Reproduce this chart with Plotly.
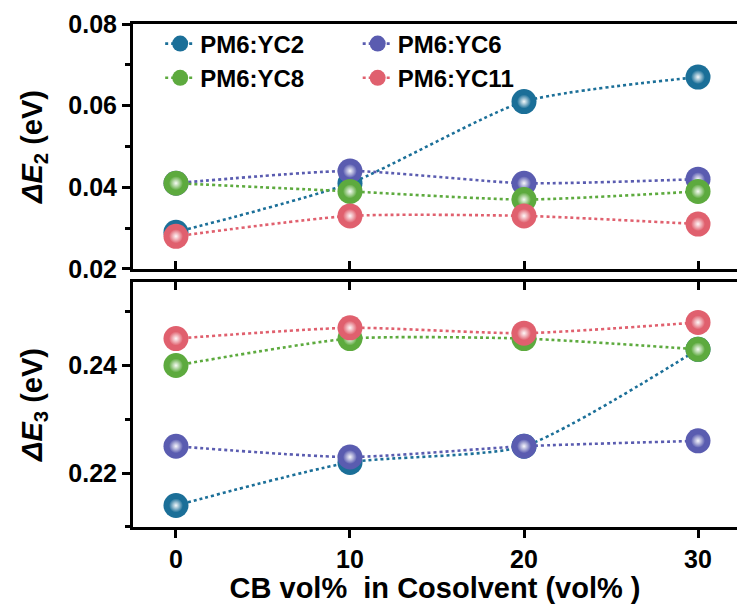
import plotly.graph_objects as go

# CB content in the cosolvent (vol%)
cb_vol = [0, 10, 20, 30]

# Energy losses ΔE2 (eV)
de2_yc2 = [0.029, 0.041, 0.061, 0.067]
de2_yc6 = [0.041, 0.044, 0.041, 0.042]
de2_yc8 = [0.041, 0.039, 0.037, 0.039]
de2_yc11 = [0.028, 0.033, 0.033, 0.031]

# Energy losses ΔE3 (eV)
de3_yc2 = [0.214, 0.222, 0.225, 0.243]
de3_yc6 = [0.225, 0.223, 0.225, 0.226]
de3_yc8 = [0.240, 0.245, 0.245, 0.243]
de3_yc11 = [0.245, 0.247, 0.246, 0.248]

names = ["PM6:YC2", "PM6:YC6", "PM6:YC8", "PM6:YC11"]
colors = ["#1b6f98", "#5a5cb0", "#5daa3e", "#e0606e"]
legends = ["legend", "legend2", "legend", "legend2"]
top_series = [de2_yc2, de2_yc6, de2_yc8, de2_yc11]
bottom_series = [de3_yc2, de3_yc6, de3_yc8, de3_yc11]

FONT = "Arial, Liberation Sans, sans-serif"
fig = go.Figure()


def add_series(y, xa, ya, name, color, leg, show):
    fig.add_trace(go.Scatter(
        x=cb_vol, y=y, xaxis=xa, yaxis=ya, name=name, legend=leg,
        mode="lines+markers", showlegend=show,
        line=dict(color=color, width=2.6, dash="dot", shape="spline", smoothing=0.6),
        marker=dict(size=25, color=color, line=dict(width=0)),
    ))
    # soft specular highlight on each sphere (white centre fading into the base colour)
    fig.add_trace(go.Scatter(
        x=cb_vol, y=y, xaxis=xa, yaxis=ya, mode="markers", showlegend=False,
        hoverinfo="skip",
        marker=dict(size=14, color=color,
                    gradient=dict(type="radial", color="rgba(255,255,255,0.95)"),
                    line=dict(width=0)),
    ))


for s, n, c, lg in zip(top_series, names, colors, legends):
    add_series(s, "x", "y", n, c, lg, True)
for s, n, c, lg in zip(bottom_series, names, colors, legends):
    add_series(s, "x2", "y2", n, c, lg, False)

x_range = [-2.47, 32.24]
tick_font = dict(family=FONT, size=25, color="black", weight="bold")
title_font = dict(family=FONT, size=29, color="black", weight="bold")
legend_font = dict(family=FONT, size=24, color="black", weight="bold")
axis_common = dict(showline=True, linewidth=3, linecolor="black", showgrid=False,
                   zeroline=False, tickwidth=3, tickcolor="black", automargin=False)

fig.update_layout(
    width=737, height=604,
    template="none",
    paper_bgcolor="white", plot_bgcolor="white",
    margin=dict(l=133, r=0, t=24, b=77),
    font=dict(family=FONT, color="black"),
    xaxis=dict(domain=[0, 1], anchor="y", range=x_range, tickvals=cb_vol,
               ticks="inside", ticklen=8, showticklabels=False, mirror=True, **axis_common),
    yaxis=dict(domain=[0.513, 1], anchor="x", range=[0.02, 0.08],
               tickvals=[0.02, 0.04, 0.06, 0.08], tickformat=".2f",
               ticks="outside", ticklen=8, tickfont=tick_font,
               minor=dict(tickvals=[0.03, 0.05, 0.07], ticks="outside", ticklen=5,
                          tickwidth=3, tickcolor="black"),
               title=dict(text="<i>ΔE</i><sub>2</sub> (eV)", font=title_font, standoff=18),
               **axis_common),
    xaxis2=dict(domain=[0, 1], anchor="y2", range=x_range, tickvals=cb_vol,
                ticks="outside", ticklen=8, tickfont=tick_font,
                title=dict(text="CB vol%\u00a0 in Cosolvent (vol%\u00a0)", font=title_font, standoff=1),
                **axis_common),
    xaxis3=dict(overlaying="x2", anchor="y2", side="top", range=x_range, tickvals=cb_vol,
                ticks="inside", ticklen=8, showticklabels=False, **axis_common),
    yaxis2=dict(domain=[0, 0.487], anchor="x2", range=[0.21, 0.2555],
                tickvals=[0.22, 0.24], tickformat=".2f",
                ticks="outside", ticklen=8, tickfont=tick_font,
                minor=dict(tickvals=[0.21, 0.23, 0.25], ticks="outside", ticklen=5,
                           tickwidth=3, tickcolor="black"),
                title=dict(text="<i>ΔE</i><sub>3</sub> (eV)", font=title_font, standoff=18),
                **axis_common),
    legend=dict(x=0.045, y=1.005, xanchor="left", yanchor="top", bgcolor="rgba(0,0,0,0)",
                font=legend_font, tracegroupgap=0, itemsizing="trace"),
    legend2=dict(x=0.372, y=1.005, xanchor="left", yanchor="top", bgcolor="rgba(0,0,0,0)",
                 font=legend_font, tracegroupgap=0, itemsizing="trace"),
)

# keep the overlay axis present even without its own trace
fig.add_trace(go.Scatter(x=[], y=[], xaxis="x3", yaxis="y2", showlegend=False))

fig.write_html("out.html")
